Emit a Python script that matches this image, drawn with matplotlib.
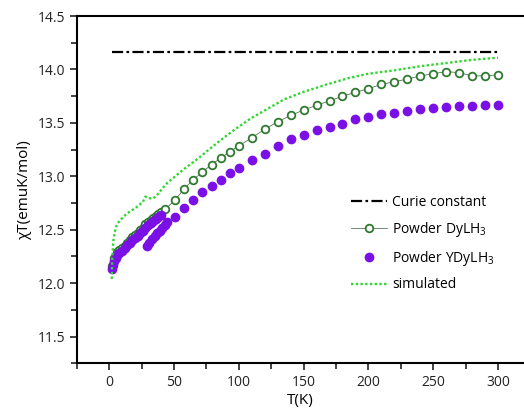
import matplotlib
matplotlib.use("Agg")
import matplotlib.pyplot as plt
from matplotlib.ticker import MultipleLocator

plt.rcParams['font.family'] = ['Open Sans', 'DejaVu Sans']
plt.rcParams['mathtext.fontset'] = 'custom'
plt.rcParams['mathtext.rm'] = 'Open Sans'

# Curie constant
curie_T = [2, 300]
curie_val = [14.165, 14.165]

# Powder DyLH3 (open circles)
dy_T = [2, 4, 6, 8, 10, 12, 14, 16, 18, 20, 22, 24, 26, 28, 30, 32, 34, 36, 38, 40, 43,
        51, 58, 65, 72, 79, 86, 93, 100, 110, 120, 130, 140, 150, 160, 170, 180, 190,
        200, 210, 220, 230, 240, 250, 260, 270, 280, 290, 300]
dy_val = [12.16, 12.24, 12.29, 12.31, 12.33, 12.35, 12.38, 12.40, 12.43, 12.45, 12.47, 12.50,
          12.52, 12.55, 12.57, 12.59, 12.61, 12.63, 12.65, 12.67, 12.69,
          12.78, 12.885, 12.97, 13.04, 13.11, 13.17, 13.23, 13.285, 13.36, 13.44, 13.51,
          13.57, 13.62, 13.665, 13.705, 13.75, 13.785, 13.82, 13.86, 13.885, 13.91, 13.94,
          13.96, 13.98, 13.97, 13.94, 13.94, 13.95]

# Powder YDyLH3 (filled circles): dense low-T run, then the second sweep
ydy_T = [2, 3, 4, 5, 6, 8, 10, 12, 14, 16, 18, 20, 22, 24, 26, 28, 30, 32, 34, 36, 38, 40,
         29, 31, 33, 35, 37, 39, 41, 43, 45,
         51, 58, 65, 72, 79, 86, 93, 100, 110, 120, 130, 140, 150, 160, 170, 180, 190,
         200, 210, 220, 230, 240, 250, 260, 270, 280, 290, 300]
ydy_val = [12.13, 12.17, 12.21, 12.24, 12.26, 12.28, 12.30, 12.33, 12.36, 12.38, 12.40, 12.42,
           12.44, 12.47, 12.49, 12.52, 12.54, 12.56, 12.58, 12.60, 12.62, 12.64,
           12.35, 12.38, 12.41, 12.44, 12.47, 12.49, 12.52, 12.54, 12.57,
           12.62, 12.70, 12.78, 12.85, 12.91, 12.97, 13.03, 13.08, 13.15, 13.21, 13.28,
           13.35, 13.385, 13.43, 13.463, 13.494, 13.535, 13.556, 13.58, 13.594, 13.61,
           13.628, 13.64, 13.65, 13.656, 13.66, 13.663, 13.663]

# simulated curve
sim_T = [2, 2.5, 3.3, 4.6, 6, 8.5, 13.6, 21, 26, 28, 30, 33, 36, 42, 45, 57, 70, 83, 96,
         109, 122, 135, 150, 168, 185, 200, 219, 240, 260, 280, 300]
sim_val = [12.04, 12.25, 12.40, 12.49, 12.55, 12.59, 12.65, 12.71, 12.76, 12.81, 12.80,
           12.79, 12.81, 12.90, 12.94, 13.06, 13.18, 13.31, 13.43, 13.54, 13.63, 13.72,
           13.79, 13.86, 13.92, 13.96, 13.99, 14.03, 14.06, 14.09, 14.11]

fig = plt.figure(figsize=(5.24, 4.15), dpi=100)
ax = fig.add_axes([0.1464, 0.1246, 0.8536, 0.8368])

ax.plot(curie_T, curie_val, color='black', linestyle=(0, (5, 1.5, 1.2, 1.5)), lw=1.6,
        label='Curie constant')
ax.plot(dy_T, dy_val, color='#3a5f3a', lw=0.5, marker='o', markersize=5.5,
        markerfacecolor='white', markeredgecolor='#2f7a2f', markeredgewidth=1.3,
        label='Powder DyLH$_3$')
ax.plot(ydy_T, ydy_val, linestyle='none', marker='o', markersize=6,
        color='#7a10e6', label='Powder YDyLH$_3$')
ax.plot(sim_T, sim_val, color='#2fd62f', linestyle=(0, (1, 1)), lw=1.7,
        label='simulated')

ax.set_xlim(-25, 320)
ax.set_ylim(11.25, 14.5)
ax.xaxis.set_major_locator(MultipleLocator(50))
ax.xaxis.set_minor_locator(MultipleLocator(25))
ax.yaxis.set_major_locator(MultipleLocator(0.5))
ax.yaxis.set_minor_locator(MultipleLocator(0.25))
ax.yaxis.set_major_formatter(matplotlib.ticker.FormatStrFormatter('%.1f'))

ax.spines['right'].set_visible(False)
for s in ['left', 'bottom', 'top']:
    ax.spines[s].set_linewidth(1.5)
ax.tick_params(which='both', direction='out', width=1.2, labelsize=10,
               colors='#222222', top=False, right=False)
ax.tick_params(which='major', length=5)
ax.tick_params(which='minor', length=4)

ax.set_xlabel('T(K)', fontsize=11, labelpad=2)
ax.set_ylabel('χT(emuK/mol)', fontsize=11, labelpad=4)

ax.legend(loc='upper left', bbox_to_anchor=(0.585, 0.52), frameon=False, fontsize=10,
          handlelength=2.6, handletextpad=0.35, labelspacing=0.7)

fig.savefig('out.png', dpi=100)
